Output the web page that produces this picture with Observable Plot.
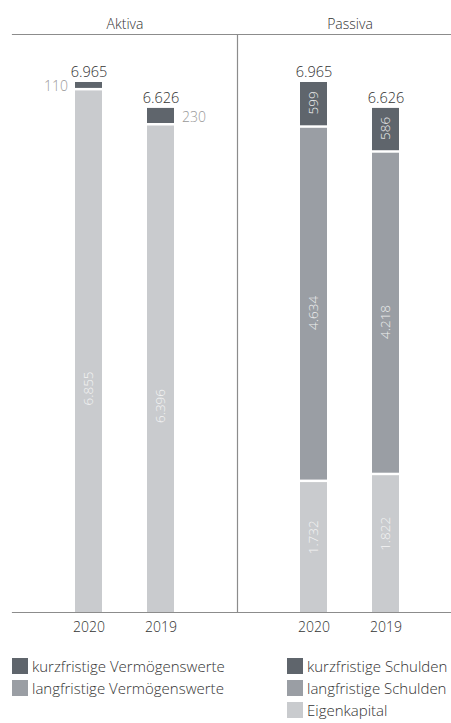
<!DOCTYPE html>
<html>
<head>
<meta charset="utf-8">
<script src="https://cdn.jsdelivr.net/npm/d3@7"></script>
<script src="https://cdn.jsdelivr.net/npm/@observablehq/plot@0.6"></script>
<style>
  html, body { margin: 0; padding: 0; background: #fff; overflow: hidden; }
  #wrap { position: relative; width: 451px; height: 723px; overflow: hidden; font-family: "Open Sans", sans-serif; }
  #chart svg { max-width: none !important; }
  #chart svg text { font-weight: 300; }
  .lg { position: absolute; display: flex; align-items: center; font-size: 15px; line-height: 18px; font-weight: 300; color: #333; white-space: nowrap; }
  .lg .sw { width: 16px; height: 16px; margin-right: 4px; flex: none; }
</style>
</head>
<body>
<div id="wrap">
  <div id="chart"></div>
  <div id="legend"></div>
</div>
<script>
// ---- data ----
const panels = ["Aktiva", "Passiva"];
const years = ["2020", "2019"];
const aktivaSeries = ["langfristige Vermögenswerte", "kurzfristige Vermögenswerte"];
const passivaSeries = ["Eigenkapital", "langfristige Schulden", "kurzfristige Schulden"];
const kurzfristigeVermoegenswerte = [110, 230];
const langfristigeVermoegenswerte = [6855, 6396];
const eigenkapital = [1732, 1822];
const langfristigeSchulden = [4634, 4218];
const kurzfristigeSchulden = [599, 586];
const bilanzsumme = [6965, 6626];

const colors = {
  "kurzfristige Vermögenswerte": "#5f656c",
  "langfristige Vermögenswerte": "#c9cbce",
  "kurzfristige Schulden": "#5f656c",
  "langfristige Schulden": "#9a9ea4",
  "Eigenkapital": "#c9cbce"
};
const legendColors = {
  "kurzfristige Vermögenswerte": "#5f656c",
  "langfristige Vermögenswerte": "#9a9ea4",
  "kurzfristige Schulden": "#5f656c",
  "langfristige Schulden": "#9a9ea4",
  "Eigenkapital": "#c9cbce"
};

// ---- build stacked table ----
const valuesBySeries = {
  "langfristige Vermögenswerte": langfristigeVermoegenswerte,
  "kurzfristige Vermögenswerte": kurzfristigeVermoegenswerte,
  "Eigenkapital": eigenkapital,
  "langfristige Schulden": langfristigeSchulden,
  "kurzfristige Schulden": kurzfristigeSchulden
};
const rows = [];
for (const [panel, series] of [["Aktiva", aktivaSeries], ["Passiva", passivaSeries]]) {
  years.forEach((year, i) => {
    let base = 0;
    series.forEach((s) => {
      const v = valuesBySeries[s][i];
      rows.push({panel, year, series: s, value: v, y1: base, y2: base + v, mid: base + v / 2});
      base += v;
    });
  });
}
const totals = [];
panels.forEach(panel => years.forEach((year, i) => totals.push({panel, year, total: bilanzsumme[i]})));

const loc = d3.formatLocale({decimal: ",", thousands: ".", grouping: [3], currency: ["", "€"]});
const fmt = loc.format(",d");

const seriesDomain = Object.keys(colors);

const chart = Plot.plot({
  width: 462,
  height: 645,
  marginLeft: 12,
  marginRight: 0,
  marginTop: 34,
  marginBottom: 33,
  style: {fontFamily: "'Open Sans', sans-serif", fontSize: "14px", color: "#333", background: "transparent", maxWidth: "none"},
  fx: {domain: panels, paddingInner: 0, paddingOuter: 0, label: null},
  x: {domain: years, paddingInner: 0.625, paddingOuter: 0.875, label: null},
  y: {domain: [0, 6965], range: [612, 79.5], axis: null},
  color: {domain: seriesDomain, range: seriesDomain.map(s => colors[s])},
  marks: [
    Plot.barY(rows, {fx: "panel", x: "year", y1: "y1", y2: "y2", fill: "series", insetTop: 2.5}),
    Plot.frame({anchor: "top", stroke: "#8c8c8c", strokeWidth: 1.2}),
    Plot.frame({anchor: "bottom", stroke: "#8c8c8c", strokeWidth: 1.2}),
    Plot.frame({anchor: "right", stroke: "#8c8c8c", strokeWidth: 1.2}),
    // totals
    Plot.text(totals, {fx: "panel", x: "year", y: "total", text: d => fmt(d.total), lineAnchor: "bottom", dy: -3, fontSize: 14.5, fill: "#333"}),
    // small Aktiva current values outside
    Plot.text(rows.filter(d => d.series === "kurzfristige Vermögenswerte" && d.year === "2020"),
      {fx: "panel", x: "year", y: "mid", text: d => fmt(d.value), textAnchor: "end", dx: -21, dy: 2, fontSize: 14, fill: "#999999"}),
    Plot.text(rows.filter(d => d.series === "kurzfristige Vermögenswerte" && d.year === "2019"),
      {fx: "panel", x: "year", y: "mid", text: d => fmt(d.value), textAnchor: "start", dx: 21, dy: 3, fontSize: 14, fill: "#999999"}),
    // rotated inside labels
    Plot.text(rows.filter(d => d.series === "langfristige Vermögenswerte"),
      {fx: "panel", x: "year", y: "mid", text: d => fmt(d.value), rotate: -90, dy: 38, fontSize: 13.5, fill: "#f4f4f4"}),
    Plot.text(rows.filter(d => d.series === "kurzfristige Schulden"),
      {fx: "panel", x: "year", y: "mid", text: d => fmt(d.value), rotate: -90, dy: 0, fontSize: 13.5, fill: "#eeeeee"}),
    Plot.text(rows.filter(d => d.series === "langfristige Schulden"),
      {fx: "panel", x: "year", y: "mid", text: d => fmt(d.value), rotate: -90, dy: 10, fontSize: 13.5, fill: "#eeeeee"}),
    Plot.text(rows.filter(d => d.series === "Eigenkapital"),
      {fx: "panel", x: "year", y: "mid", text: d => fmt(d.value), rotate: -90, dy: -9, fontSize: 13.5, fill: "#f4f4f4"}),
    Plot.axisX({tickSize: 0, tickPadding: 10, fontSize: 14, fill: "#333", label: null}),
    Plot.axisFx({anchor: "top", tickSize: 0, tickPadding: 6, fontSize: 14, fill: "#333", label: null})
  ]
});
document.getElementById("chart").appendChild(chart);

// ---- legend ----
const legendItems = [
  {label: "kurzfristige Vermögenswerte", left: 12, top: 657},
  {label: "langfristige Vermögenswerte", left: 12, top: 679},
  {label: "kurzfristige Schulden", left: 287, top: 657},
  {label: "langfristige Schulden", left: 287, top: 679},
  {label: "Eigenkapital", left: 287, top: 701}
];
const lg = document.getElementById("legend");
for (const it of legendItems) {
  const d = document.createElement("div");
  d.className = "lg";
  d.style.left = it.left + "px";
  d.style.top = it.top + "px";
  const sw = document.createElement("span");
  sw.className = "sw";
  sw.style.background = legendColors[it.label];
  const t = document.createElement("span");
  t.textContent = it.label;
  d.appendChild(sw);
  d.appendChild(t);
  lg.appendChild(d);
}
</script>
</body>
</html>
